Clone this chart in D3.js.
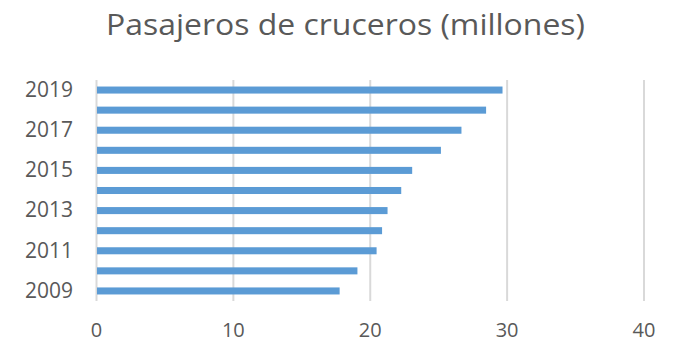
<!DOCTYPE html>
<html>
<head>
<meta charset="utf-8">
<script src="https://cdn.jsdelivr.net/npm/d3@7"></script>
<style>
  html, body { margin: 0; padding: 0; background: #fff; }
  svg { display: block; font-family: "Open Sans", "Noto Sans", sans-serif; }
</style>
</head>
<body>
<svg id="chart" width="682" height="343"></svg>
<script>
// Cruise passengers per year, in millions
const years = [2009, 2010, 2011, 2012, 2013, 2014, 2015, 2016, 2017, 2018, 2019];
const passengers = [17.8, 19.1, 20.5, 20.9, 21.3, 22.3, 23.1, 25.2, 26.7, 28.5, 29.7];
const xTicks = [0, 10, 20, 30, 40];
const yLabelYears = [2009, 2011, 2013, 2015, 2017, 2019];
const chartTitle = "Pasajeros de cruceros (millones)";

(function draw() {
  const svg = d3.select("#chart");
  const m = { left: 96, right: 643.5, top: 80, bottom: 301 };

  const x = d3.scaleLinear().domain([0, 40]).range([m.left, m.right]);
  const y = d3.scaleBand()
    .domain(years.slice().reverse())
    .range([m.top, m.bottom])
    .paddingInner(0.65)
    .paddingOuter(0.325);

  // Title
  svg.append("text")
    .attr("x", 106)
    .attr("y", 35)
    .attr("text-anchor", "start")
    .attr("font-size", 30)
    .attr("fill", "#595959")
    .attr("textLength", 479)
    .attr("lengthAdjust", "spacingAndGlyphs")
    .text(chartTitle);

  // Vertical gridlines and value labels
  const xAxis = d3.axisBottom(x).tickValues(xTicks).tickSize(-(m.bottom - m.top)).tickPadding(22);
  const gx = svg.append("g").attr("transform", `translate(0,${m.bottom})`).call(xAxis);
  gx.select(".domain").remove();
  gx.selectAll(".tick line").attr("stroke", "#d9d9d9").attr("stroke-width", 2);
  gx.selectAll(".tick text")
    .attr("fill", "#595959")
    .attr("font-size", 20)
    .attr("font-family", "Open Sans, sans-serif");

  // Bars
  svg.append("g")
    .selectAll("rect")
    .data(years.map((yr, i) => ({ yr, v: passengers[i] })))
    .join("rect")
    .attr("x", x(0) + 1)
    .attr("y", d => y(d.yr))
    .attr("width", d => x(d.v) - x(0) - 1)
    .attr("height", y.bandwidth())
    .attr("fill", "#5b9bd5");

  // Year labels (every other year)
  const yAxis = d3.axisLeft(y).tickValues(yLabelYears).tickSize(0).tickPadding(23);
  const gy = svg.append("g").attr("transform", `translate(${m.left},0)`).call(yAxis);
  gy.select(".domain").remove();
  gy.selectAll(".tick text")
    .attr("fill", "#595959")
    .attr("font-size", 21)
    .attr("font-family", "Open Sans, sans-serif");
})();
</script>
</body>
</html>
